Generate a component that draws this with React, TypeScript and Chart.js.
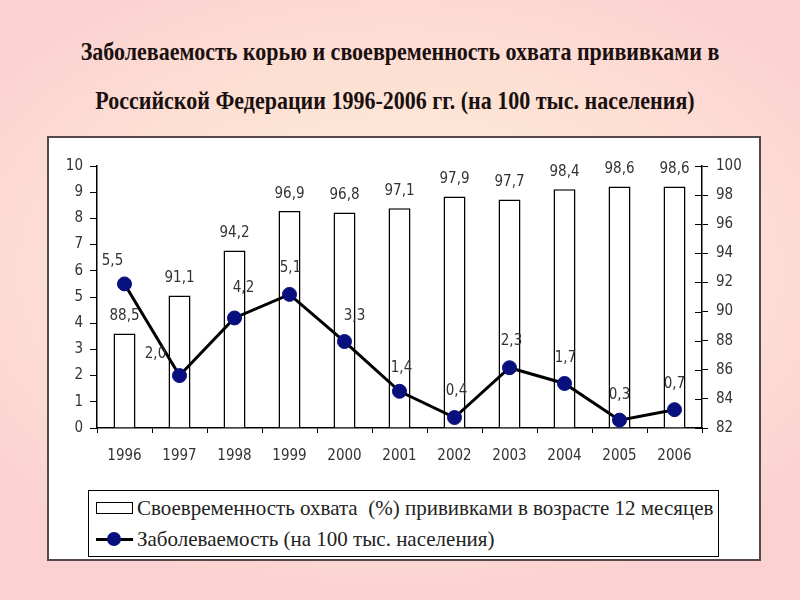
import React, { useEffect, useRef } from "react";
import { Chart, registerables } from "chart.js";

Chart.register(...registerables);

// ---- data ----
const years = ["1996", "1997", "1998", "1999", "2000", "2001", "2002", "2003", "2004", "2005", "2006"];
const coverage = [88.5, 91.1, 94.2, 96.9, 96.8, 97.1, 97.9, 97.7, 98.4, 98.6, 98.6];
const incidence = [5.5, 2.0, 4.2, 5.1, 3.3, 1.4, 0.4, 2.3, 1.7, 0.3, 0.7];
const leftAxis = { min: 0, max: 10, step: 1 };
const rightAxis = { min: 82, max: 100, step: 2 };

const titleLines = [
  "Заболеваемость корью и своевременность охвата прививками в",
  "Российской Федерации 1996-2006 гг. (на 100 тыс. населения)",
];
const legendCoverage = "Своевременность охвата  (%) прививками в возрасте 12 месяцев";
const legendIncidence = "Заболеваемость (на 100 тыс. населения)";

// label nudges (style only): [dx, dy] from point
const lineLabelNudge: [number, number][] = [
  [-12, -23], [-24, -21], [9, -30], [1, -26], [10, -25], [2, -23],
  [2, -26], [2, -27], [1, -25], [0, -25], [0, -26],
];

const AXIS_FONT = "'DejaVu Sans Condensed', 'DejaVu Sans', sans-serif";
const NAVY = "#08107e";

const fmt = (v: number) => v.toFixed(1).replace(".", ",");

const labelPlugin = {
  id: "valueLabels",
  afterDatasetsDraw(chart: any) {
    const ctx = chart.ctx as CanvasRenderingContext2D;
    ctx.save();
    ctx.font = `15px ${AXIS_FONT}`;
    ctx.fillStyle = "#333";
    ctx.textAlign = "center";
    ctx.textBaseline = "middle";
    const barMeta = chart.getDatasetMeta(0);
    barMeta.data.forEach((el: any, i: number) => {
      ctx.fillText(fmt(coverage[i]), el.x, el.y - 17);
    });
    const lineMeta = chart.getDatasetMeta(1);
    lineMeta.data.forEach((el: any, i: number) => {
      const [dx, dy] = lineLabelNudge[i];
      ctx.fillText(fmt(incidence[i]), el.x + dx, el.y + dy);
    });
    ctx.restore();
  },
  afterDraw(chart: any) {
    // inward half of right-axis ticks
    const s = chart.scales.y1;
    const ctx = chart.ctx as CanvasRenderingContext2D;
    ctx.save();
    ctx.strokeStyle = "#000";
    ctx.lineWidth = 1;
    s.ticks.forEach((t: any) => {
      const y = Math.round(s.getPixelForValue(t.value)) + 0.5;
      ctx.beginPath();
      ctx.moveTo(s.left - 7, y);
      ctx.lineTo(s.left, y);
      ctx.stroke();
    });
    ctx.restore();
  },
};

export default function App() {
  const ref = useRef<HTMLCanvasElement | null>(null);

  useEffect(() => {
    if (!ref.current) return;
    const tickFont = { family: AXIS_FONT, size: 15 };
    const chart = new Chart(ref.current, {
      type: "bar",
      data: {
        labels: years,
        datasets: [
          {
            type: "bar",
            label: legendCoverage,
            data: coverage,
            yAxisID: "y1",
            base: rightAxis.min,
            backgroundColor: "#ffffff",
            borderColor: "#000000",
            borderWidth: 1.5,
            barPercentage: 0.4,
            categoryPercentage: 1,
            order: 2,
          } as any,
          {
            type: "line",
            label: legendIncidence,
            data: incidence,
            yAxisID: "y",
            borderColor: "#000000",
            borderWidth: 3,
            pointRadius: 7,
            pointBackgroundColor: NAVY,
            pointBorderColor: NAVY,
            pointBorderWidth: 1,
            tension: 0,
            order: 1,
          } as any,
        ],
      },
      options: {
        responsive: false,
        animation: false,
        devicePixelRatio: 1,
        layout: { padding: { left: 47, right: 39, top: 166, bottom: 122 } },
        plugins: {
          legend: { display: false },
          tooltip: { enabled: false },
        },
        scales: {
          x: {
            grid: {
              display: true,
              drawOnChartArea: false,
              drawTicks: true,
              tickLength: 5,
              color: "#000",
              offset: true,
            },
            border: { display: true, color: "#000", width: 1.5 },
            ticks: { font: tickFont, color: "#333", padding: 14, maxRotation: 0 },
            afterFit: (s: any) => {
              s.height = 50;
            },
          },
          y: {
            position: "left",
            min: leftAxis.min,
            max: leftAxis.max,
            ticks: { stepSize: leftAxis.step, font: tickFont, color: "#333", padding: 7 },
            grid: { drawOnChartArea: false, tickLength: 7, color: "#000" },
            border: { display: true, color: "#000", width: 1.5 },
            afterFit: (s: any) => {
              s.width = 50;
            },
          },
          y1: {
            position: "right",
            min: rightAxis.min,
            max: rightAxis.max,
            ticks: { stepSize: rightAxis.step, font: tickFont, color: "#333", padding: 8 },
            grid: { drawOnChartArea: false, tickLength: 6, color: "#000" },
            border: { display: true, color: "#000", width: 1.5 },
            afterFit: (s: any) => {
              s.width = 59;
            },
          },
        },
      } as any,
      plugins: [labelPlugin],
    });
    return () => chart.destroy();
  }, []);

  const serif = "'Liberation Serif', 'Times New Roman', serif";

  return (
    <div
      style={{
        position: "absolute",
        left: 0,
        top: 0,
        width: 800,
        height: 600,
        overflow: "hidden",
        background:
          "radial-gradient(ellipse 65% 55% at 50% 45%, #fdeedb 0%, #fde2d4 55%, #fbd2d1 100%)",
      }}
    >
      {titleLines.map((t, i) => (
        <div
          key={i}
          style={{
            position: "absolute",
            left: 0,
            width: 800,
            top: i === 0 ? 38 : 87,
            textAlign: "center",
            fontFamily: serif,
            fontWeight: "bold",
            fontSize: 22,
            lineHeight: "28px",
            color: "#1a1010",
            transform: i === 1 ? "translateX(-5px) scaleY(1.1)" : "scaleY(1.1)",
          }}
        >
          {t}
        </div>
      ))}
      <div
        style={{
          position: "absolute",
          left: 47,
          top: 136,
          width: 714,
          height: 425,
          boxSizing: "border-box",
          border: "2px solid #54484a",
          background: "#ffffff",
        }}
      />
      <div
        style={{
          position: "absolute",
          left: 88,
          top: 490,
          width: 631,
          height: 67,
          boxSizing: "border-box",
          border: "1px solid #000",
          background: "#fff",
          fontFamily: serif,
          fontSize: 21,
          color: "#222",
        }}
      >
        <div style={{ position: "absolute", left: 7, top: 11, width: 37, height: 12, boxSizing: "border-box", border: "1px solid #000" }} />
        <div style={{ position: "absolute", left: 48, top: 5, whiteSpace: "pre", lineHeight: "24px" }}>{legendCoverage}</div>
        <div style={{ position: "absolute", left: 7, top: 47, width: 37, height: 3, background: "#000" }} />
        <div style={{ position: "absolute", left: 18, top: 41, width: 14, height: 14, borderRadius: 7, background: NAVY }} />
        <div style={{ position: "absolute", left: 48, top: 36, whiteSpace: "pre", lineHeight: "24px" }}>{legendIncidence}</div>
      </div>
      <canvas
        ref={ref}
        width={800}
        height={600}
        style={{ position: "absolute", left: 0, top: 0, width: 800, height: 600 }}
      />
    </div>
  );
}
